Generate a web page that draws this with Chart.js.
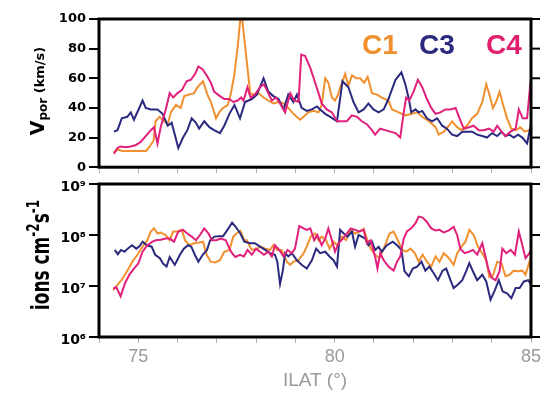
<!DOCTYPE html>
<html>
<head>
<meta charset="utf-8">
<script src="https://cdn.jsdelivr.net/npm/chart.js@4.4.1/dist/chart.umd.min.js"></script>
<style>
  html, body { margin: 0; padding: 0; background: #fff; }
  #wrap { position: relative; width: 547px; height: 394px; overflow: hidden; background: #fff; }
  canvas { position: absolute; left: 0; }
  .rot { position: absolute; transform: translate(-50%, -50%) rotate(-90deg); white-space: nowrap; font-family: 'DejaVu Sans', sans-serif; font-weight: bold; color: #000; line-height: 1; }
  .leg { position: absolute; font-family: 'Liberation Sans', Arial, sans-serif; font-weight: bold; font-size: 28px; line-height: 1; }
</style>
</head>
<body>
<div id="wrap">
  <canvas id="top" width="547" height="178" style="top:0"></canvas>
  <canvas id="bot" width="547" height="229" style="top:165px"></canvas>
  <div class="rot" style="left:37px; top:91px;"><span style="font-size:19px">V</span><span style="font-size:12px; position:relative; top:3px">por</span><span style="font-size:13px"> (km/s)</span></div>
  <div class="rot" style="left:39px; top:255px;"><span style="display:inline-block; transform: scaleY(1.5); font-size:17px">ions cm<sup style="font-size:12px">-2</sup>s<sup style="font-size:12px">-1</sup></span></div>
  <div class="leg" style="left:362px; top:31px; color:#F0902F;">C1</div>
  <div class="leg" style="left:419px; top:31px; color:#2B2A7E;">C3</div>
  <div class="leg" style="left:486px; top:31px; color:#E01F6E;">C4</div>
</div>
<script>
// ---- tick labels / axis ranges ----
const xTickLabels = [75, 80, 85];
const yTopTicks = [0, 20, 40, 60, 80, 100];
const yBotTicks = [1e6, 1e7, 1e8, 1e9];
const seriesNames = ['C1', 'C3', 'C4'];

// ---- top panel: V_por (km/s) ----
const c1TopX = [74.38,74.47,74.6,74.8,75.0,75.2,75.29,75.39,75.44,75.54,75.66,75.75,75.83,75.96,76.08,76.17,76.30,76.42,76.51,76.65,76.76,76.85,76.98,77.06,77.16,77.28,77.36,77.45,77.53,77.62,77.67,77.76,77.85,77.93,78.06,78.19,78.31,78.44,78.57,78.70,78.82,78.95,79.12,79.21,79.33,79.46,79.59,79.67,79.76,79.84,79.93,80.01,80.07,80.16,80.27,80.35,80.44,80.55,80.65,80.75,80.84,80.95,81.08,81.20,81.37,81.46,81.63,81.80,81.97,82.10,82.23,82.40,82.57,82.65,82.78,82.91,82.99,83.12,83.23,83.37,83.50,83.63,83.76,83.86,83.94,84.03,84.11,84.20,84.28,84.39,84.50,84.62,84.73,84.84,84.95,85.0];
const c1TopV = [10,12,11,11,11,11,14,18,31,34,31,29,37,42,40,48,49,50,54,58,49,44,33,37,40,42,50,63,81,106,94,72,50,49,50,47,45,43,44,43,40,36,32,34,37,38,37,42,60,57,47,45,48,55,63,55,62,60,60,57,61,50,49,47,45,39,37,35,36,37,34,31,27,22,24,28,31,27,25,28,33,36,44,56,49,40,44,51,43,33,26,25,27,24,25,27];

const c3TopX = [74.38,74.47,74.58,74.72,74.81,74.89,75.11,75.19,75.32,75.49,75.62,75.75,75.85,76.02,76.14,76.25,76.36,76.47,76.55,76.68,76.81,76.93,77.08,77.19,77.32,77.45,77.59,77.72,77.89,78.02,78.19,78.31,78.44,78.57,78.70,78.82,78.95,79.04,79.16,79.29,79.42,79.55,79.63,79.76,79.89,80.06,80.20,80.35,80.48,80.61,80.74,80.86,80.99,81.12,81.25,81.37,81.55,81.70,81.80,81.89,81.95,82.06,82.14,82.23,82.35,82.48,82.61,82.74,82.86,82.99,83.12,83.25,83.37,83.50,83.63,83.76,83.88,84.01,84.14,84.25,84.35,84.45,84.56,84.67,84.78,84.90,85.0];
const c3TopV = [24,25,33,34,37,32,45,40,39,39,36,28,30,13,20,25,33,30,26,31,27,25,23,28,36,42,33,44,46,49,60,51,48,46,39,49,44,49,40,38,39,41,39,36,34,31,58,54,44,37,39,43,39,37,39,46,59,64,56,46,37,39,37,38,33,31,33,28,26,22,21,24,24,24,22,21,20,23,21,24,21,22,20,22,20,16,29];

const c4TopX = [74.38,74.47,74.55,74.68,74.81,74.94,75.06,75.19,75.32,75.40,75.49,75.57,75.70,75.80,75.89,76.00,76.11,76.23,76.34,76.45,76.53,76.64,76.74,76.85,76.93,77.08,77.19,77.32,77.42,77.53,77.62,77.68,77.78,77.86,77.97,78.10,78.20,78.31,78.40,78.51,78.61,78.74,78.87,78.97,79.08,79.15,79.25,79.38,79.48,79.59,79.67,79.80,79.93,80.06,80.18,80.31,80.44,80.57,80.69,80.82,80.95,81.03,81.16,81.29,81.42,81.55,81.67,81.76,81.82,81.90,82.01,82.12,82.23,82.35,82.46,82.57,82.69,82.82,82.95,83.08,83.18,83.29,83.42,83.54,83.67,83.80,83.93,84.05,84.14,84.25,84.35,84.48,84.61,84.69,84.79,84.90,84.99];
const c4TopV = [9,13,14,13.5,14,15,17,21,25,27,16,27,39,50,47,50,52,58,59,63,68,66,62,57,51,48,46,46,44,45,47,45,54,47,49,54,56,50,45,47,43,37,50,45,44,76,75,67,59,50,43,39,37,31,31,31,35,34,31,29,25,22,26,25,24,23,20,37,47,45,51,59,54,46,40,36,37,39,39,40,33,26,27,28,25,25,26,24,28,24,21,24,26,39,33,33,58];

// ---- bottom panel: ions cm^-2 s^-1 ----
const c1BotX = [74.36,74.47,74.60,74.72,74.85,74.98,75.11,75.23,75.32,75.40,75.49,75.57,75.70,75.80,75.89,76.00,76.11,76.19,76.30,76.42,76.55,76.65,76.74,76.85,76.96,77.08,77.19,77.32,77.42,77.50,77.60,77.70,77.76,77.89,78.02,78.12,78.23,78.36,78.44,78.54,78.65,78.78,78.87,78.95,79.08,79.21,79.29,79.39,79.50,79.59,79.67,79.78,79.87,79.97,80.07,80.18,80.29,80.40,80.52,80.63,80.74,80.82,80.92,81.03,81.14,81.25,81.40,81.50,81.61,81.72,81.82,81.93,82.04,82.14,82.24,82.35,82.46,82.57,82.67,82.78,82.91,83.03,83.12,83.23,83.33,83.43,83.54,83.65,83.76,83.86,83.94,84.03,84.14,84.25,84.35,84.45,84.56,84.67,84.78,84.86,84.96,85.0];
const c1BotF = [8.3e6,1.05e7,1.4e7,2.0e7,3.0e7,4.1e7,5.9e7,7.9e7,1.17e8,1.35e8,1.07e8,1.12e8,1.0e8,7.9e7,1.17e8,1.17e8,1.26e8,7.9e7,6.3e7,6.9e7,7.1e7,7.4e7,4.1e7,3.0e7,2.9e7,3.2e7,4.7e7,5.1e7,9.3e7,1.07e8,1.2e8,8.0e7,7.9e7,5.1e7,5.4e7,5.9e7,5.4e7,5.1e7,6.3e7,5.1e7,5.1e7,3.0e7,2.6e7,3.0e7,3.2e7,4.4e7,5.9e7,9.3e7,1.07e8,7.9e7,9.3e7,7.9e7,5.4e7,7.4e7,6.3e7,9.3e7,7.9e7,1.26e8,1.07e8,1.17e8,1.32e8,8.5e7,5.4e7,4.1e7,3.5e7,5.4e7,1.07e8,1.17e8,7.9e7,5.1e7,4.7e7,5.4e7,4.4e7,3.0e7,4.1e7,3.0e7,2.4e7,3.8e7,3.0e7,4.4e7,3.5e7,2.6e7,4.4e7,5.9e7,7.4e7,1.26e8,1.0e8,5.9e7,4.4e7,3.2e7,1.5e7,1.6e7,3.0e7,2.8e7,1.55e7,1.66e7,2.0e7,1.95e7,2.0e7,1.66e7,3.0e7,2.0e7];

const c3BotX = [74.40,74.48,74.56,74.65,74.73,74.84,74.95,75.03,75.11,75.22,75.34,75.43,75.55,75.63,75.72,75.80,75.93,76.06,76.16,76.27,76.35,76.44,76.53,76.64,76.75,76.83,76.94,77.05,77.16,77.27,77.39,77.48,77.59,77.70,77.85,77.97,78.10,78.23,78.36,78.48,78.54,78.61,78.68,78.74,78.82,78.91,79.04,79.16,79.29,79.42,79.53,79.63,79.76,79.87,79.97,80.06,80.14,80.23,80.33,80.44,80.52,80.61,80.69,80.78,80.86,80.95,81.03,81.12,81.20,81.33,81.48,81.59,81.70,81.78,81.89,81.99,82.10,82.21,82.31,82.41,82.52,82.63,82.75,82.84,82.95,83.03,83.14,83.25,83.35,83.43,83.52,83.63,83.76,83.86,83.97,84.08,84.18,84.28,84.39,84.50,84.61,84.71,84.82,84.93,85.0];
const c3BotF = [5.1e7,4.2e7,5.1e7,4.7e7,5.4e7,6.3e7,5.4e7,6.0e7,7.4e7,6.3e7,5.9e7,4.1e7,3.5e7,2.75e7,2.4e7,3.7e7,2.6e7,4.1e7,5.4e7,6.3e7,5.9e7,4.1e7,3.0e7,4.1e7,5.1e7,7.9e7,9.3e7,9.5e7,9.5e7,1.26e8,1.74e8,1.45e8,1.1e8,7.4e7,6.9e7,6.9e7,5.9e7,5.1e7,4.4e7,4.1e7,3.0e7,1.1e7,2.0e7,4.4e7,3.8e7,4.4e7,3.2e7,2.6e7,2.2e7,3.2e7,5.4e7,4.4e7,4.7e7,3.8e7,3.2e7,2.4e7,1.26e8,1.07e8,9.3e7,1.17e8,5.9e7,1.0e8,9.3e7,8.5e7,6.3e7,7.4e7,5.1e7,5.9e7,4.7e7,6.3e7,7.4e7,6.3e7,5.1e7,1.95e7,1.55e7,2.2e7,2.4e7,3.0e7,2.0e7,2.4e7,1.8e7,1.3e7,2.0e7,2.2e7,1.3e7,9.1e6,1.07e7,1.3e7,1.95e7,2.8e7,1.95e7,1.3e7,1.66e7,1.23e7,5.4e6,8.3e6,1.3e7,7.8e6,7.2e6,5.8e6,9.1e6,9.1e6,1.23e7,1.3e7,1.07e7];

const c4BotX = [74.36,74.44,74.55,74.66,74.77,74.89,75.00,75.11,75.23,75.36,75.45,75.57,75.70,75.80,75.91,76.02,76.14,76.25,76.36,76.47,76.57,76.68,76.79,76.87,76.99,77.10,77.23,77.36,77.47,77.59,77.69,77.78,77.89,78.00,78.10,78.20,78.31,78.40,78.48,78.59,78.70,78.80,78.91,78.99,79.10,79.21,79.29,79.38,79.48,79.56,79.67,79.76,79.84,79.93,80.01,80.10,80.21,80.31,80.41,80.52,80.63,80.74,80.82,80.92,81.03,81.09,81.16,81.25,81.37,81.50,81.59,81.67,81.76,81.84,81.95,82.06,82.14,82.24,82.35,82.46,82.57,82.67,82.78,82.91,83.03,83.12,83.20,83.31,83.42,83.52,83.63,83.76,83.84,83.91,84.00,84.10,84.20,84.27,84.37,84.48,84.59,84.69,84.78,84.86,84.96,85.0];
const c4BotF = [8.9e6,9.5e6,6.3e6,1.12e7,1.66e7,2.2e7,2.75e7,4.7e7,6.3e7,7.4e7,7.9e7,8.1e7,8.5e7,8.5e7,7.4e7,1.17e8,1.26e8,1.07e8,9.3e7,7.9e7,1.0e8,1.35e8,1.07e8,7.9e7,7.9e7,8.5e7,7.9e7,4.7e7,3.7e7,4.1e7,3.8e7,5.1e7,4.1e7,5.4e7,4.7e7,4.1e7,4.7e7,3.8e7,6.3e7,5.1e7,3.8e7,5.1e7,4.4e7,5.4e7,1.5e8,1.35e8,1.26e8,1.35e8,7.9e7,1.0e8,6.3e7,8.5e7,1.35e8,7.9e7,4.7e7,6.9e7,8.5e7,1.07e8,1.35e8,1.26e8,1.17e8,1.26e8,6.9e7,7.9e7,3.8e7,2.2e7,4.4e7,3.2e7,2.4e7,2.0e7,3.0e7,3.8e7,8.5e7,1.17e8,1.35e8,1.7e8,2.3e8,2.2e8,1.8e8,1.35e8,1.23e8,1.26e8,1.12e8,1.23e8,1.45e8,1.0e8,5.4e7,4.4e7,4.7e7,5.1e7,4.1e7,6.9e7,3.8e7,2.2e7,1.45e7,1.3e7,1.95e7,5.4e7,4.4e7,5.1e7,4.1e7,1.17e8,6.3e7,3.5e7,4.4e7,5.1e7];

// ---- styling ----
const COLORS = { C1: '#F0902F', C3: '#2B2A7E', C4: '#E0207A' };
const GRAY = '#9a9a9a';
const SUP = { '-': '\u207B', '0': '\u2070', '1': '\u00B9', '2': '\u00B2', '3': '\u00B3', '4': '\u2074', '5': '\u2075', '6': '\u2076', '7': '\u2077', '8': '\u2078', '9': '\u2079' };

function pts(xs, ys) { return xs.map((x, i) => ({ x: x, y: ys[i] })); }
function ds(name, xs, ys) {
  return { label: name, data: pts(xs, ys), borderColor: COLORS[name], borderWidth: 2,
           pointRadius: 0, tension: 0, fill: false };
}

const framePlugin = {
  id: 'frame',
  afterDraw(chart) {
    const { ctx, chartArea: a } = chart;
    const y = chart.scales.y;
    ctx.save();
    ctx.strokeStyle = '#000';
    ctx.lineWidth = 2;
    y.ticks.forEach(t => {
      const py = y.getPixelForValue(t.value);
      ctx.beginPath(); ctx.moveTo(a.right, py); ctx.lineTo(a.right + 9, py); ctx.stroke();
    });
    ctx.lineWidth = 3;
    ctx.strokeRect(a.left, a.top, a.right - a.left, a.bottom - a.top);
    ctx.restore();
  }
};

const tickFont = { family: 'DejaVu Sans', size: 13, weight: 'bold' };

function xAxis(showLabels) {
  return {
    type: 'linear', min: 74, max: 85,
    ticks: {
      display: showLabels, stepSize: 1, autoSkip: false, maxRotation: 0,
      color: GRAY, padding: 3,
      font: { family: 'Liberation Sans', size: 18 },
      callback: v => (xTickLabels.includes(v) ? String(v) : '')
    },
    grid: { display: true, drawOnChartArea: false, drawTicks: true, tickLength: 6, color: '#b0b0b0', lineWidth: 1 },
    border: { display: false },
    title: showLabels ? { display: true, text: 'ILAT (°)', color: GRAY, font: { family: 'Liberation Sans', size: 19 }, padding: { top: 0, bottom: 2 } } : { display: false },
    afterFit: s => { s.height = showLabels ? 57 : 6; }
  };
}

new Chart(document.getElementById('top'), {
  type: 'line',
  data: { datasets: [ds('C4', c4TopX, c4TopV), ds('C3', c3TopX, c3TopV), ds('C1', c1TopX, c1TopV)] },
  options: {
    responsive: false, animation: false, parsing: true,
    layout: { padding: { left: 0, right: 16, top: 19, bottom: 0 } },
    plugins: { legend: { display: false }, tooltip: { enabled: false } },
    scales: {
      x: xAxis(false),
      y: {
        type: 'linear', min: 0, max: 100,
        afterBuildTicks: s => { s.ticks = yTopTicks.map(v => ({ value: v })); },
        ticks: { color: '#000', font: tickFont, padding: 3 },
        grid: { display: true, drawOnChartArea: false, drawTicks: true, tickLength: 10, color: '#000', lineWidth: 2 },
        border: { display: false },
        afterFit: s => { s.width = 99; }
      }
    }
  },
  plugins: [framePlugin]
});

new Chart(document.getElementById('bot'), {
  type: 'line',
  data: { datasets: [ds('C4', c4BotX, c4BotF), ds('C3', c3BotX, c3BotF), ds('C1', c1BotX, c1BotF)] },
  options: {
    responsive: false, animation: false,
    layout: { padding: { left: 0, right: 16, top: 19, bottom: 0 } },
    plugins: { legend: { display: false }, tooltip: { enabled: false } },
    scales: {
      x: xAxis(true),
      y: {
        type: 'logarithmic', min: 1e6, max: 1e9,
        afterBuildTicks: s => { s.ticks = yBotTicks.map(v => ({ value: v })); },
        ticks: {
          color: '#000', font: { family: 'DejaVu Sans', size: 14, weight: 'bold' }, padding: 3, labelOffset: 3,
          callback: v => '10' + String(Math.round(Math.log10(v))).split('').map(c => SUP[c]).join('')
        },
        grid: { display: true, drawOnChartArea: false, drawTicks: true, tickLength: 10, color: '#000', lineWidth: 2 },
        border: { display: false },
        afterFit: s => { s.width = 99; }
      }
    }
  },
  plugins: [framePlugin]
});
</script>
</body>
</html>
